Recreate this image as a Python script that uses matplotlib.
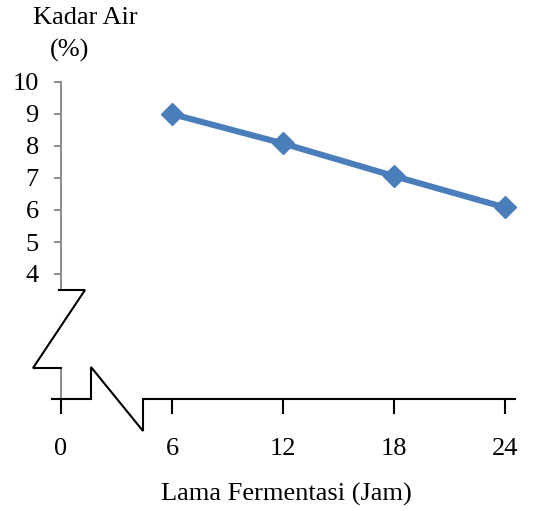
import matplotlib
matplotlib.use("Agg")
import matplotlib.pyplot as plt
from matplotlib.lines import Line2D

# Data
hours = [6, 12, 18, 24]
moisture = [9.0, 8.08, 7.06, 6.08]
x_ticks = [0, 6, 12, 18, 24]
y_ticks = [4, 5, 6, 7, 8, 9, 10]

W, H = 537, 511
plt.rcParams['font.family'] = ['Liberation Serif', 'DejaVu Serif']
fig = plt.figure(figsize=(W / 100, H / 100), dpi=100)

def fx(x):
    return x / W

def fy(y):
    return 1 - y / H

left, right, top, bottom = 61, 515, 82, 399
ax = fig.add_axes([fx(left), fy(bottom), fx(right) - fx(left), fy(top) - fy(bottom)])
ax.set_xlim(0, (right - left) / 18.5)
ax.set_ylim(9 - (bottom - 114) / 32, 10)

ax.plot(hours, moisture, color='#4a7ebb', lw=4.4, marker='D', ms=11,
        solid_capstyle='round', clip_on=False, zorder=3)

for s in ['top', 'right', 'bottom']:
    ax.spines[s].set_visible(False)
ax.spines['left'].set_color('#8c8c8c')
ax.spines['left'].set_linewidth(1.4)
ax.spines['left'].set_bounds(3.5, 10)

FS = 19
ax.set_yticks(y_ticks)
ax.set_yticklabels([str(v) for v in y_ticks])
ax.set_xticks(x_ticks)
ax.set_xticklabels([str(v) for v in x_ticks])
ax.tick_params(axis='y', direction='out', length=5, width=1.4, color='#8c8c8c',
               labelsize=FS, pad=11, labelcolor='black')
ax.tick_params(axis='x', direction='out', length=11, width=1.5, color='black',
               labelsize=FS, pad=17, labelcolor='black')

def fline(xs, ys, color='black', lw=1.5):
    fig.add_artist(Line2D([fx(x) for x in xs], [fy(y) for y in ys],
                          color=color, lw=lw, transform=fig.transFigure,
                          solid_joinstyle='miter'))

# lower y-axis stub (gray)
fline([61, 61], [368, 399], color='#8c8c8c', lw=1.4)
# y-axis break
fline([59, 85, 33, 61], [290, 290, 368, 368])
# x-axis with break
fline([52, 91, 91, 143, 143, 515], [399, 399, 367, 431, 399, 399])

fig.text(fx(85), fy(18), 'Kadar Air', ha='center', va='center', fontsize=FS)
fig.text(fx(70), fy(50), '(%)', ha='center', va='center', fontsize=FS)
fig.text(fx(286), fy(494), 'Lama Fermentasi (Jam)', ha='center', va='center', fontsize=FS)

fig.savefig('out.png', dpi=100)
